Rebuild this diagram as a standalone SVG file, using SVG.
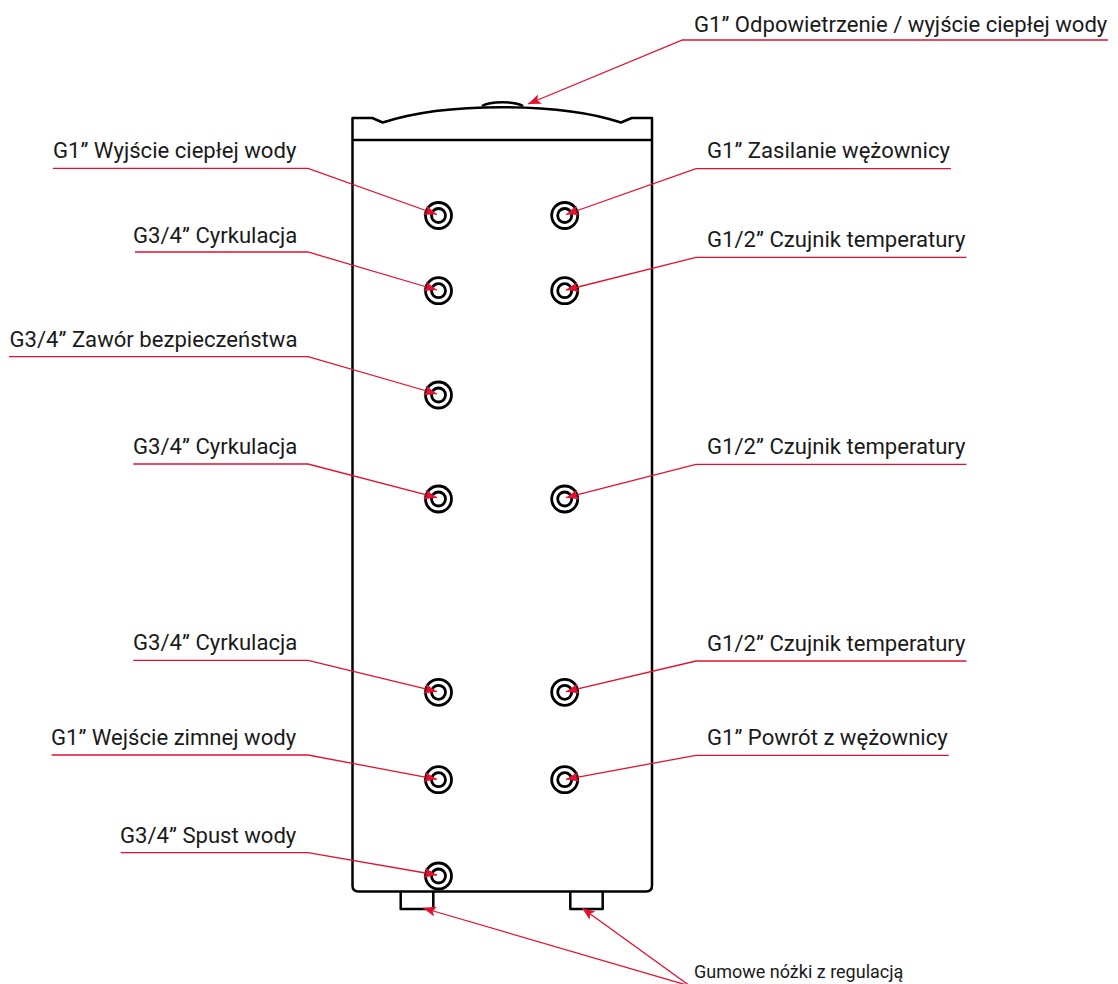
<svg xmlns="http://www.w3.org/2000/svg" width="1118" height="984" viewBox="0 0 1118 984">
<style>
.t{fill:none;stroke:#000;stroke-width:2.5;stroke-linejoin:round}
.c{fill:none;stroke:#000;stroke-width:2.8}
.l{fill:none;stroke:#e3112f;stroke-width:1.3;marker-end:url(#a)}
text{font-family:Roboto,"Liberation Sans",sans-serif;font-size:22.100px;fill:#1a1a1a}
</style>
<defs><marker id="a" markerUnits="userSpaceOnUse" markerWidth="16" markerHeight="12" refX="13" refY="5" orient="auto"><path d="M0 0L13 5L0 10L3 5Z" fill="#e3112f"/></marker></defs>
<g id="tank">
<path class="t" d="M372.300 118H352.500V885.500Q352.500 891.500 358.500 891.500H646Q652 891.500 652 885.500V118H631.700L621 122.500C560 102 444 102 382.700 122.500Z"/>
<path class="t" d="M352.500 140H652"/>
<path class="t" stroke-width="1.500" d="M482 106C490 101 515 101 523 106"/>
<path class="t" d="M400.700 891.500V909H433.300V891.500"/>
<path class="t" d="M570.300 891.500V909H602.700V891.500"/>
</g>
<g id="p1"><circle class="c" cx="438.500" cy="215.500" r="13"/><circle class="c" cx="438.500" cy="215.500" r="7"/></g>
<g id="p2"><circle class="c" cx="438.500" cy="290.700" r="13"/><circle class="c" cx="438.500" cy="290.700" r="7"/></g>
<g id="p3"><circle class="c" cx="438.500" cy="395" r="13"/><circle class="c" cx="438.500" cy="395" r="7"/></g>
<g id="p4"><circle class="c" cx="438.500" cy="499" r="13"/><circle class="c" cx="438.500" cy="499" r="7"/></g>
<g id="p5"><circle class="c" cx="438.500" cy="692.300" r="13"/><circle class="c" cx="438.500" cy="692.300" r="7"/></g>
<g id="p6"><circle class="c" cx="438.500" cy="779.700" r="13"/><circle class="c" cx="438.500" cy="779.700" r="7"/></g>
<g id="p7"><circle class="c" cx="438.500" cy="876" r="13"/><circle class="c" cx="438.500" cy="876" r="7"/></g>
<g id="p8"><circle class="c" cx="564.700" cy="215.500" r="13"/><circle class="c" cx="564.700" cy="215.500" r="7"/></g>
<g id="p9"><circle class="c" cx="564.700" cy="290.700" r="13"/><circle class="c" cx="564.700" cy="290.700" r="7"/></g>
<g id="p10"><circle class="c" cx="564.700" cy="499" r="13"/><circle class="c" cx="564.700" cy="499" r="7"/></g>
<g id="p11"><circle class="c" cx="564.700" cy="692.300" r="13"/><circle class="c" cx="564.700" cy="692.300" r="7"/></g>
<g id="p12"><circle class="c" cx="564.700" cy="779.700" r="13"/><circle class="c" cx="564.700" cy="779.700" r="7"/></g>
<g id="connectors">
<path class="l" d="M1108 40H682.500L528 104"/>
<path class="l" d="M53 168.300H308L437 214.500"/>
<path class="l" d="M135 252H308L437 290"/>
<path class="l" d="M9 356.700H308L437 394"/>
<path class="l" d="M133.300 464H308L437 497.700"/>
<path class="l" d="M133.300 660.300H308L437 691.700"/>
<path class="l" d="M51.700 755H308L437 779.300"/>
<path class="l" d="M120.700 852.700H308L437 875"/>
<path class="l" d="M951 168.700H696L566 214.500"/>
<path class="l" d="M966.500 257.300H696L566 290"/>
<path class="l" d="M966.500 464.300H696L566 497.700"/>
<path class="l" d="M966.500 661H696L566 691.700"/>
<path class="l" d="M948.700 755.300H696L566 779.300"/>
<path class="l" d="M690 986L423 908"/>
<path class="l" d="M690 986L582 908"/>
</g>
<g id="labels">
<text x="694" y="31.500">G1” Odpowietrzenie / wyjście ciepłej wody</text>
<text x="53" y="158">G1” Wyjście ciepłej wody</text>
<text x="133" y="242.500">G3/4” Cyrkulacja</text>
<text x="9.500" y="346.500">G3/4” Zawór bezpieczeństwa</text>
<text x="133" y="453.800">G3/4” Cyrkulacja</text>
<text x="133" y="650">G3/4” Cyrkulacja</text>
<text x="51" y="745">G1” Wejście zimnej wody</text>
<text x="120" y="843.300">G3/4” Spust wody</text>
<text x="707" y="158">G1” Zasilanie wężownicy</text>
<text x="707" y="247">G1/2” Czujnik temperatury</text>
<text x="707" y="454">G1/2” Czujnik temperatury</text>
<text x="707" y="650.700">G1/2” Czujnik temperatury</text>
<text x="707" y="745">G1” Powrót z wężownicy</text>
<text x="694" y="978" style="font-size:18px">Gumowe nóżki z regulacją</text>
</g>
</svg>
